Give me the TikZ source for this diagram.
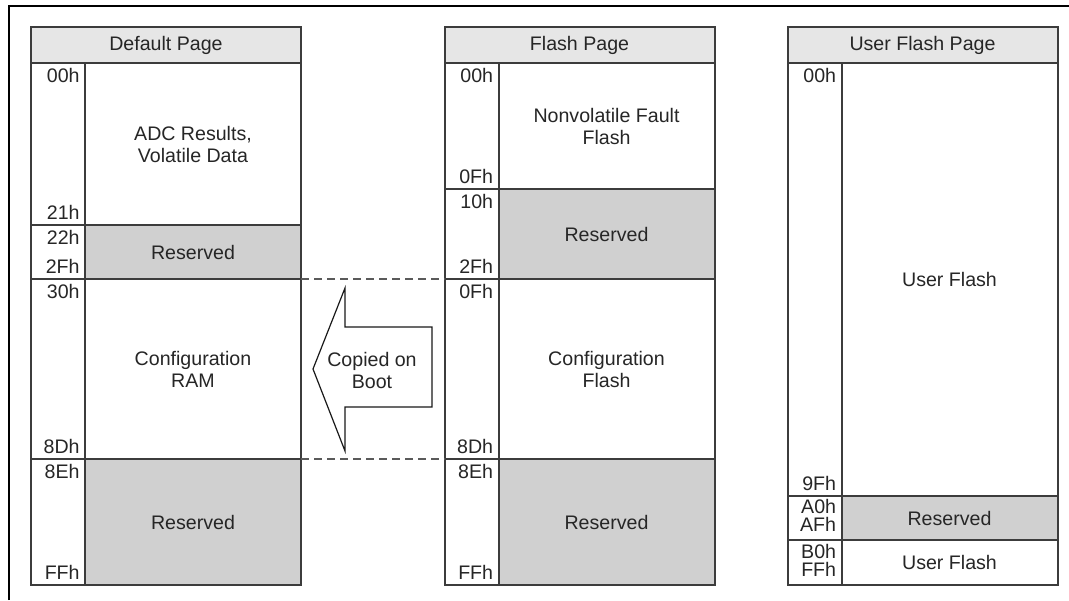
\documentclass[tikz,border=0pt]{standalone}
\usepackage{fontspec}
\setmainfont{Liberation Sans}
\usetikzlibrary{positioning}
\definecolor{headgray}{RGB}{230,230,230}
\definecolor{resgray}{RGB}{208,208,208}
\definecolor{linegray}{RGB}{60,60,60}
\definecolor{dashgray}{RGB}{90,90,90}

\begin{document}
\begin{tikzpicture}[x=0.5pt, y=-0.5pt,
    txt/.style={font=\fontsize{9.8}{11}\selectfont, text=black!85},
    cell/.style={txt, draw=linegray, line width=1pt, inner sep=0pt, outer sep=0pt, align=center},
    head/.style={cell, fill=headgray, minimum width=135pt, minimum height=18pt},
    mem/.style={cell, fill=white, minimum width=108pt},
    resv/.style={mem, fill=resgray},
    addrcell/.style={cell, fill=white, minimum width=27pt},
    addr/.style={txt, inner sep=0pt},
    copyline/.style={dash pattern=on 4pt off 2.5pt, draw=dashgray, line width=0.8pt},
    bootarrow/.style={draw=black!90, line width=0.6pt, fill=white}
]
    \useasboundingbox (0,0) rectangle (1069,600);
    \draw[line width=1pt] (8.5,600) -- (8.5,6) -- (1069,6);

    % default page
    \node[head] (dhead) at (166,45) {Default Page};
    \node[mem, minimum height=81pt, below left=0pt and 0pt of dhead.south east] (dadc) {ADC Results,\\Volatile Data};
    \node[resv, minimum height=27pt, below=0pt of dadc] (dres1) {Reserved};
    \node[mem, minimum height=90pt, below=0pt of dres1] (dcfg) {Configuration\\RAM};
    \node[resv, minimum height=63pt, below=0pt of dcfg] (dres2) {Reserved};
    \node[addrcell, minimum height=81pt, left=0pt of dadc] (da1) {};
    \node[addrcell, minimum height=27pt, left=0pt of dres1] (da2) {};
    \node[addrcell, minimum height=90pt, left=0pt of dcfg] (da3) {};
    \node[addrcell, minimum height=63pt, left=0pt of dres2] (da4) {};
    \node[addr, below left=2.5pt and 2.5pt of da1.north east] (d00) {00h};
    \node[addr, above left=2.5pt and 2.5pt of da1.south east] (d21) {21h};
    \node[addr, below left=2.5pt and 2.5pt of da2.north east] (d22) {22h};
    \node[addr, above left=2.5pt and 2.5pt of da2.south east] (d2F) {2Fh};
    \node[addr, below left=2.5pt and 2.5pt of da3.north east] (d30) {30h};
    \node[addr, above left=2.5pt and 2.5pt of da3.south east] (d8D) {8Dh};
    \node[addr, below left=2.5pt and 2.5pt of da4.north east] (d8E) {8Eh};
    \node[addr, above left=2.5pt and 2.5pt of da4.south east] (dFF) {FFh};

    % flash page
    \node[head] (fhead) at (579.5,45) {Flash Page};
    \node[mem, minimum height=63pt, below left=0pt and 0pt of fhead.south east] (fnvf) {Nonvolatile Fault\\Flash};
    \node[resv, minimum height=45pt, below=0pt of fnvf] (fres1) {Reserved};
    \node[mem, minimum height=90pt, below=0pt of fres1] (fcfg) {Configuration\\Flash};
    \node[resv, minimum height=63pt, below=0pt of fcfg] (fres2) {Reserved};
    \node[addrcell, minimum height=63pt, left=0pt of fnvf] (fa1) {};
    \node[addrcell, minimum height=45pt, left=0pt of fres1] (fa2) {};
    \node[addrcell, minimum height=90pt, left=0pt of fcfg] (fa3) {};
    \node[addrcell, minimum height=63pt, left=0pt of fres2] (fa4) {};
    \node[addr, below left=2.5pt and 2.5pt of fa1.north east] (f00) {00h};
    \node[addr, above left=2.5pt and 2.5pt of fa1.south east] (f0F) {0Fh};
    \node[addr, below left=2.5pt and 2.5pt of fa2.north east] (f10) {10h};
    \node[addr, above left=2.5pt and 2.5pt of fa2.south east] (f2F) {2Fh};
    \node[addr, below left=2.5pt and 2.5pt of fa3.north east] (f0Fb) {0Fh};
    \node[addr, above left=2.5pt and 2.5pt of fa3.south east] (f8D) {8Dh};
    \node[addr, below left=2.5pt and 2.5pt of fa4.north east] (f8E) {8Eh};
    \node[addr, above left=2.5pt and 2.5pt of fa4.south east] (fFF) {FFh};

    % user flash page
    \node[head] (uhead) at (922.5,45) {User Flash Page};
    \node[mem, minimum height=216.5pt, below left=0pt and 0pt of uhead.south east] (uflash) {User Flash};
    \node[resv, minimum height=22pt, below=0pt of uflash] (ures) {Reserved};
    \node[mem, minimum height=22.5pt, below=0pt of ures] (uflash2) {User Flash};
    \node[addrcell, minimum height=216.5pt, left=0pt of uflash] (ua1) {};
    \node[addrcell, minimum height=22pt, left=0pt of ures] (ua2) {};
    \node[addrcell, minimum height=22.5pt, left=0pt of uflash2] (ua3) {};
    \node[addr, below left=2.5pt and 2.5pt of ua1.north east] (u00) {00h};
    \node[addr, above left=2.5pt and 2.5pt of ua1.south east] (u9F) {9Fh};
    \node[addr, below left=1.5pt and 2.5pt of ua2.north east] (uA0) {A0h};
    \node[addr, above left=4pt and 2.5pt of ua2.south east] (uAF) {AFh};
    \node[addr, below left=2pt and 2.5pt of ua3.north east] (uB0) {B0h};
    \node[addr, above left=4pt and 2.5pt of ua3.south east] (uFF) {FFh};

    % copy on boot
    \draw[copyline] (dcfg.north east) -- (fa3.north west);
    \draw[copyline] (dcfg.south east) -- (fa3.south west);
    \draw[bootarrow] (432,327) -- (345,327) -- (345,288) -- (313,369) -- (345,451) -- (345,407) -- (432,407) -- cycle;
    \node[txt, align=center] (boot) at (372,370) {Copied on\\Boot};
\end{tikzpicture}
\end{document}
